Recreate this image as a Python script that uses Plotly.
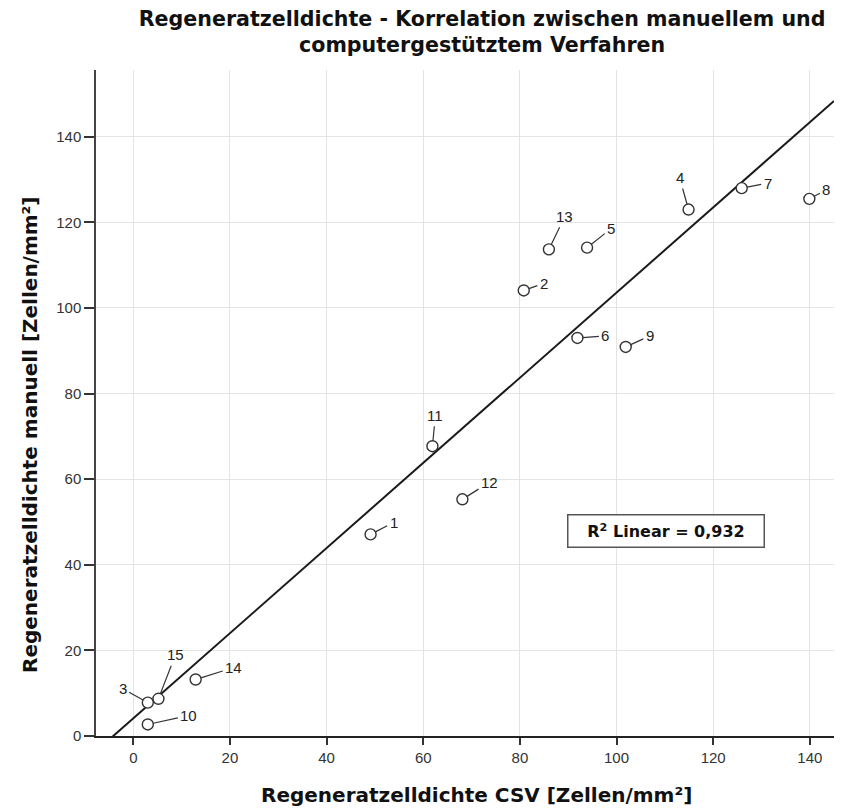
import numpy as np
import plotly.graph_objects as go

# Werte
fall_nr = [1, 2, 3, 4, 5, 6, 7, 8, 9, 10, 11, 12, 13, 14, 15]
dichte_csv = [49.1, 80.8, 3.0, 114.9, 93.9, 91.9, 125.9, 139.9, 101.9, 3.0, 61.9, 68.1, 86.0, 12.9, 5.2]
dichte_manuell = [47.1, 104.1, 7.8, 123.0, 114.1, 93.0, 128.0, 125.5, 90.9, 2.7, 67.7, 55.3, 113.7, 13.2, 8.7]

x_ticks = [0, 20, 40, 60, 80, 100, 120, 140]
y_ticks = [0, 20, 40, 60, 80, 100, 120, 140]
r2_text = "R<sup>2</sup> Linear = 0,932"

# Versatz der Beschriftungen (Pixel) relativ zum Punkt
label_offsets = [(23, -12), (20, -7), (-25, -14), (-9, -32), (24, -19), (28, -2), (26, -5), (17, -9),
                 (24, -11), (41, -9), (3, -31), (27, -17), (16, -33), (38, -12), (17, -44)]

x_range = [-7.72, 145.0]
y_range = [0, 155.6]

FONT = "Liberation Sans, Arial, sans-serif"
FONT_TITLE = "DejaVu Sans, Verdana, sans-serif"

# Lineare Regression
slope, intercept = np.polyfit(dichte_csv, dichte_manuell, 1)
fit_x = np.array(x_range)
fit_y = slope * fit_x + intercept

fig = go.Figure()

fig.add_trace(go.Scatter(
    x=fit_x, y=fit_y, mode="lines",
    line=dict(color="#1a1a1a", width=2),
    hoverinfo="skip", showlegend=False
))

fig.add_trace(go.Scatter(
    x=dichte_csv, y=dichte_manuell, mode="markers",
    marker=dict(symbol="circle", size=11, color="white",
                line=dict(color="#333333", width=1.4)),
    text=[str(n) for n in fall_nr],
    showlegend=False
))

# Fallnummern mit Hinweislinien
for n, xv, yv, (ox, oy) in zip(fall_nr, dichte_csv, dichte_manuell, label_offsets):
    fig.add_annotation(
        x=xv, y=yv, text=str(n), showarrow=True,
        arrowhead=0, arrowwidth=1.2, arrowcolor="#333333",
        ax=ox, ay=oy, standoff=5.5, startstandoff=1,
        font=dict(family=FONT, size=15, color="#222222")
    )

# R²-Kasten
fig.add_annotation(
    x=110.3, y=47.9, text="<b>" + r2_text + "</b>", showarrow=False,
    font=dict(family=FONT_TITLE, size=16, color="#111111"),
    bordercolor="#555555", borderwidth=1.5, borderpad=1, bgcolor="white",
    width=193, height=29
)

# Achsentitel als Annotationen, damit sie wie in der Vorlage sitzen
fig.add_annotation(
    xref="paper", yref="paper", x=-0.0894, y=0.452,
    text="<b>Regeneratzelldichte manuell [Zellen/mm²]</b>", showarrow=False,
    textangle=-90, xanchor="center", yanchor="middle",
    font=dict(family=FONT_TITLE, size=20, color="#111111")
)
fig.add_annotation(
    xref="paper", yref="paper", x=0.515, y=-0.0886,
    text="<b>Regeneratzelldichte CSV [Zellen/mm²]</b>", showarrow=False,
    xanchor="center", yanchor="middle",
    font=dict(family=FONT_TITLE, size=20, color="#111111")
)

# Seite hat 8 px Rand und schneidet rechts bei 834 px ab
fig.update_layout(
    width=826, height=801,
    margin=dict(l=88, r=0, t=62, b=73),
    paper_bgcolor="white", plot_bgcolor="white",
    font=dict(family=FONT, color="#333333"),
    title=dict(
        text="<b>Regeneratzelldichte - Korrelation zwischen manuellem und<br>computergestütztem Verfahren</b>",
        x=0.574, xanchor="center", xref="container", y=0.978, yanchor="top",
        font=dict(family=FONT_TITLE, size=20.6, color="#111111")
    ),
    xaxis=dict(
        range=x_range, tickvals=x_ticks, showgrid=True, gridcolor="#e4e4e4", gridwidth=1,
        zeroline=False, showline=True, linecolor="#222222", linewidth=1.5,
        ticks="outside", ticklen=7, tickcolor="#333333", tickwidth=1.5,
        tickfont=dict(size=15, color="#333333"), automargin=False
    ),
    yaxis=dict(
        range=y_range, tickvals=y_ticks, showgrid=True, gridcolor="#e4e4e4", gridwidth=1,
        zeroline=False, showline=True, linecolor="#444444", linewidth=1.5,
        ticks="outside", ticklen=10, tickcolor="#333333", tickwidth=1.5,
        tickfont=dict(size=15, color="#333333"), automargin=False
    )
)

fig.write_html("out.html")
